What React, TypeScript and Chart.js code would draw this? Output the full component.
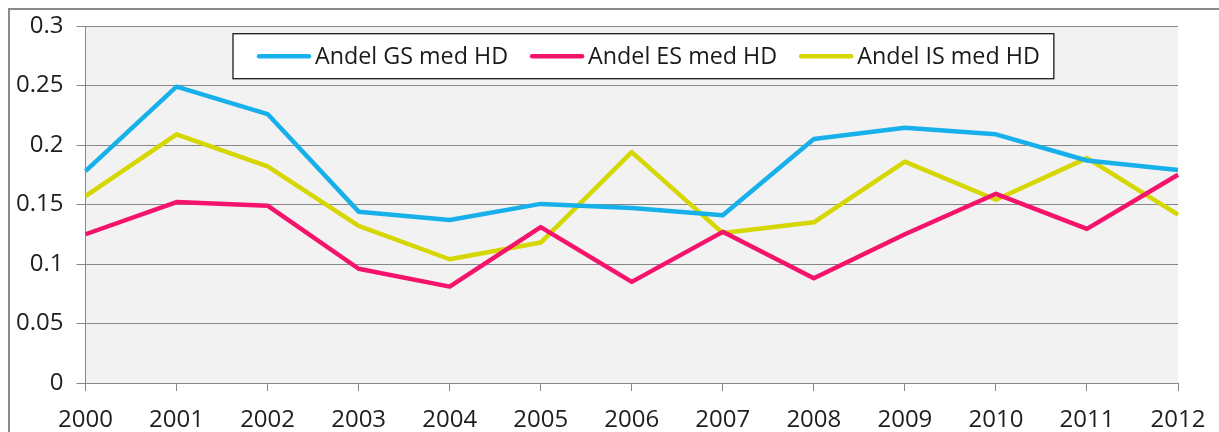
import React, { useEffect, useRef } from "react";
import { Chart, registerables } from "chart.js";

Chart.register(...registerables);

const years = ["2000", "2001", "2002", "2003", "2004", "2005", "2006", "2007", "2008", "2009", "2010", "2011", "2012"];
const gsShare = [0.178, 0.249, 0.226, 0.144, 0.137, 0.1505, 0.147, 0.141, 0.205, 0.2145, 0.209, 0.187, 0.179];
const esShare = [0.125, 0.152, 0.149, 0.096, 0.081, 0.131, 0.085, 0.127, 0.088, 0.125, 0.159, 0.1295, 0.175];
const isShare = [0.157, 0.209, 0.182, 0.132, 0.104, 0.118, 0.194, 0.126, 0.135, 0.186, 0.154, 0.189, 0.1415];
const seriesLabels = ["Andel GS med HD", "Andel ES med HD", "Andel IS med HD"];
const seriesColors = ["#18b0ea", "#f5146b", "#d6d600"];
const yTickLabels = ["0", "0.05", "0.1", "0.15", "0.2", "0.25", "0.3"];

const FONT_FAMILY = "'Open Sans', 'Noto Sans', sans-serif";
const GRID = "#878787";

const backgroundPlugin = {
  id: "plotBackground",
  beforeDraw(chart: any) {
    const { ctx, chartArea, width, height } = chart;
    ctx.save();
    ctx.fillStyle = "#ffffff";
    ctx.fillRect(0, 0, width, height);
    ctx.fillStyle = "#f2f2f2";
    ctx.fillRect(chartArea.left, chartArea.top, chartArea.right - chartArea.left, chartArea.bottom - chartArea.top);
    ctx.restore();
  },
};

const boxLegendPlugin = {
  id: "boxLegend",
  afterDatasetsDraw(chart: any) {
    const { ctx, chartArea } = chart;
    const datasets = chart.data.datasets;
    ctx.save();
    ctx.font = `23.3px ${FONT_FAMILY}`;
    const sample = 54;
    const gapText = 4;
    const gapItem = 22;
    const padL = 24;
    const padR = 14;
    const widths = datasets.map((d: any) => ctx.measureText(d.label).width);
    let total = padL + padR;
    widths.forEach((w: number, i: number) => {
      total += sample + gapText + w + (i < widths.length - 1 ? gapItem : 0);
    });
    const left = chartArea.left + 147.5;
    const top = chartArea.top + 7.7;
    const h = 45;
    ctx.fillStyle = "#ffffff";
    ctx.fillRect(left, top, total, h);
    ctx.strokeStyle = "#1a1a1a";
    ctx.lineWidth = 1.3;
    ctx.strokeRect(left, top, total, h);
    const cy = top + h / 2;
    let x = left + padL;
    datasets.forEach((d: any, i: number) => {
      ctx.strokeStyle = d.borderColor;
      ctx.lineWidth = 4.5;
      ctx.lineCap = "round";
      ctx.beginPath();
      ctx.moveTo(x + 2, cy);
      ctx.lineTo(x + sample - 2, cy);
      ctx.stroke();
      x += sample + gapText;
      ctx.fillStyle = "#1a1a1a";
      ctx.textBaseline = "middle";
      ctx.textAlign = "left";
      ctx.fillText(d.label, x, cy + 1);
      x += widths[i] + gapItem;
    });
    ctx.restore();
  },
};

export default function App() {
  const canvasRef = useRef<HTMLCanvasElement | null>(null);

  useEffect(() => {
    if (!canvasRef.current) return;
    const values = [gsShare, esShare, isShare];
    const chart = new Chart(canvasRef.current, {
      type: "line",
      data: {
        labels: years,
        datasets: seriesLabels.map((label, i) => ({
          label,
          data: values[i],
          borderColor: seriesColors[i],
          backgroundColor: seriesColors[i],
          borderWidth: 4.5,
          pointRadius: 0,
          tension: 0,
          fill: false,
          borderJoinStyle: "round" as const,
        })),
      },
      options: {
        responsive: false,
        animation: false,
        layout: { padding: { left: 0, right: 41, top: 16, bottom: 0 } },
        plugins: {
          legend: { display: false },
          tooltip: { enabled: false },
        },
        scales: {
          x: {
            type: "category",
            offset: false,
            grid: {
              drawOnChartArea: false,
              drawTicks: true,
              tickLength: 8,
              color: GRID,
            },
            border: { display: true, color: GRID, width: 1 },
            ticks: {
              color: "#1e1e1e",
              font: { family: FONT_FAMILY, size: 24, lineHeight: 1.2 },
              padding: 14.5,
              maxRotation: 0,
              autoSkip: false,
            },
            afterFit(scale: any) {
              scale.height = 49;
              scale.paddingLeft = 0;
              scale.paddingRight = 0;
            },
          },
          y: {
            min: 0,
            max: 0.3,
            ticks: {
              stepSize: 0.05,
              color: "#1e1e1e",
              font: { family: FONT_FAMILY, size: 24 },
              padding: 13,
              callback: (_v: any, index: number) => yTickLabels[index],
            },
            grid: {
              color: GRID,
              tickLength: 9,
              lineWidth: 1,
            },
            border: { display: true, color: GRID, width: 1 },
            afterFit(scale: any) {
              scale.width = 75.5;
              scale.paddingTop = 0;
              scale.paddingBottom = 0;
            },
          },
        },
      },
      plugins: [backgroundPlugin, boxLegendPlugin],
    });
    return () => chart.destroy();
  }, []);

  return (
    <div
      style={{
        position: "fixed",
        left: 8,
        top: 8,
        width: 1211,
        height: 424,
        boxSizing: "border-box",
        borderTop: "2px solid #8a8a8a",
        borderLeft: "2px solid #8a8a8a",
        background: "#ffffff",
        overflow: "hidden",
      }}
    >
      <canvas ref={canvasRef} width={1209} height={422} style={{ display: "block", width: 1209, height: 422 }} />
    </div>
  );
}
